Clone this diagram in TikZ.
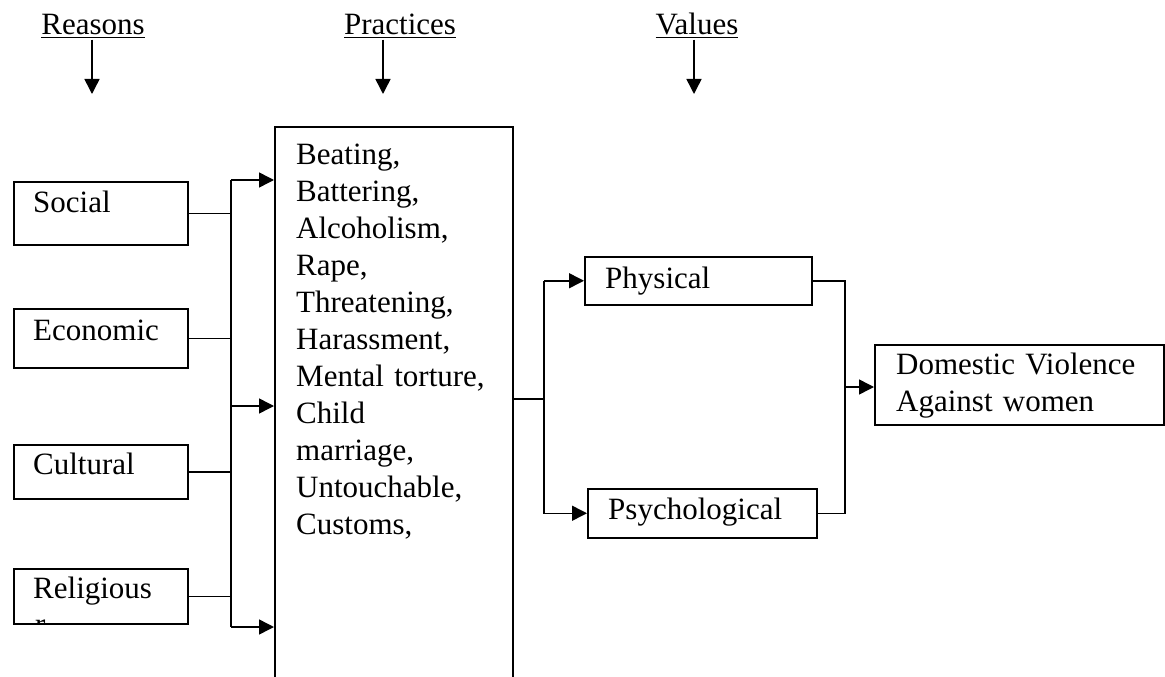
\documentclass[tikz,border=0pt]{standalone}
\usepackage{fontspec}
\setmainfont{Liberation Serif}
\usepackage{tikz}
\usetikzlibrary{arrows.meta}
\tikzset{x=1pt, y=-1pt,
  box/.style={draw, line width=1.5pt, rectangle, inner sep=0pt, anchor=north west},
  word/.style={anchor=base west, inner sep=0pt, font=\fontsize{31}{37}\selectfont},
  link/.style={line width=1.5pt},
  arr/.style={line width=1.5pt, -{Triangle[length=15pt,width=15pt]}}
}
% #1 name, #2 top, #3 height, #4 text baseline, #5 text
\def\Reason#1#2#3#4#5{%
  \node[box, minimum width=174, minimum height=#3] (#1) at (13,#2) {};
  \node[word] (#1txt) at (33,#4) {#5};
  \draw[link] (#1.east) -- (#1.east -| bustop);
}
% #1 name, #2 arrow x, #3 text x, #4 text
\def\Heading#1#2#3#4{%
  \node[word, anchor=base] (#1) at (#3,35) {\underline{#4}};
  \coordinate (#1end) at (#2,94);
  \draw[arr, shorten <=2pt] (#1.south -| #1end) -- (#1end);
}
\begin{document}
\begin{tikzpicture}
\clip (0,0) rectangle (1165,677);

\Heading{reasons}{92}{93}{Reasons}
\Heading{practiceshead}{383}{400}{Practices}
\Heading{values}{694}{697}{Values}

% bus on the left
\coordinate (bustop) at (231,180);
\coordinate (busmid) at (231,406);
\coordinate (busbot) at (231,627);
\draw[link] (bustop) -- (busbot);

\Reason{social}{181}{63}{212}{Social}
\Reason{economic}{308}{59}{340}{Economic}
\Reason{cultural}{444}{54}{474}{Cultural}
\Reason{religious}{568}{55}{598}{Religious}
\begin{scope}
  \clip (religious.north west) rectangle (religious.south east);
  \node[word] (religioustail) at (35,634) {r};
\end{scope}

% practices
\node[box, minimum width=238, minimum height=600] (practices) at (274,126) {};
\node[word, anchor=north west, align=left, text width=215] (practicestxt) at (296,144)
  {Beating,\\Battering,\\Alcoholism,\\Rape,\\Threatening,\\Harassment,\\Mental torture,\\Child\\marriage,\\Untouchable,\\Customs,};
\draw[arr] (bustop) -- (bustop -| practices.west);
\draw[arr] (busmid) -- (busmid -| practices.west);
\draw[arr] (busbot) -- (busbot -| practices.west);

% values
\node[box, minimum width=227, minimum height=48] (physical) at (584,256) {};
\node[word] (physicaltxt) at (605,288) {Physical};
\node[box, minimum width=229, minimum height=49] (psycho) at (587,488) {};
\node[word] (psychotxt) at (608,519) {Psychological};
\coordinate (split) at (544,399);
\draw[link] (practices.east |- split) -- (split);
\draw[arr] (split |- physical.west) -- (physical.west);
\draw[arr] (split) |- (psycho.west);
\draw[link] (split) -- (split |- physical.west);

% result
\node[box, minimum width=289, minimum height=80] (dv) at (874,344) {};
\node[word, anchor=north west, align=left, text width=270] (dvtxt) at (896,353)
  {Domestic Violence\\Against women};
\coordinate (join) at (845,387);
\draw[link] (physical.east) -| (join);
\draw[link] (psycho.east) -| (join);
\draw[arr] (join) -- (join -| dv.west);
\end{tikzpicture}
\end{document}
